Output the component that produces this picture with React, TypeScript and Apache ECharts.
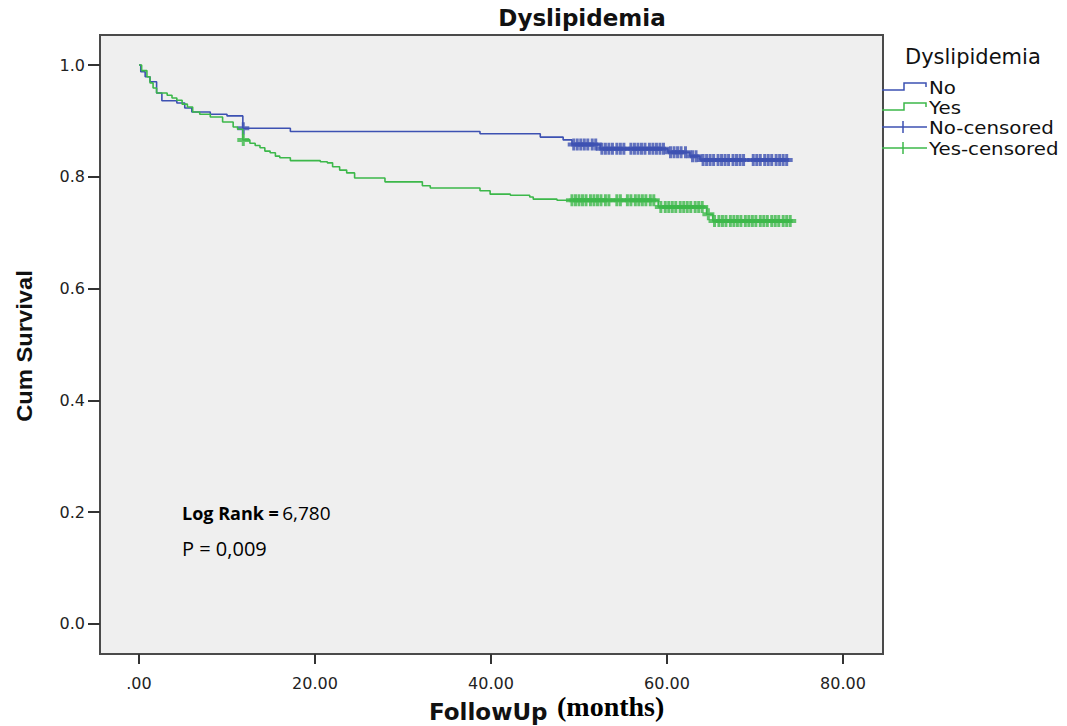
import React, { useEffect, useRef } from "react";
import * as echarts from "echarts";

const xTicks = [0, 20, 40, 60, 80];
const yTicks = [0, 0.2, 0.4, 0.6, 0.8, 1.0];

// Dyslipidemia = No : event times (months) and survival after each step
const noTimes = [0, 0.2, 0.7, 1.25, 2.0, 2.6, 4.3, 5.2, 6.0, 8.1, 10.0, 11.8, 17.2, 38.75, 45.6, 48.2, 49.2, 52.4, 60.1, 62.6, 63.75, 73.75];
const noSurv = [1.0, 0.988, 0.979, 0.97, 0.95, 0.936, 0.932, 0.923, 0.916, 0.912, 0.909, 0.887, 0.881, 0.877, 0.871, 0.866, 0.858, 0.85, 0.844, 0.837, 0.83, 0.83];

// Dyslipidemia = Yes
const yesTimes = [0, 0.3, 0.9, 1.25, 1.6, 2.0, 3.2, 3.75, 4.3, 4.9, 5.5, 6.1, 6.9, 8.1, 9.5, 10.7, 11.2, 11.8, 12.6, 13.2, 13.75, 14.3, 14.9, 15.5, 16.0, 17.2, 20.6, 21.4, 22.0, 22.8, 23.6, 24.5, 27.95, 32.2, 33.1, 38.75, 39.9, 42.2, 44.4, 44.8, 47.5, 59.0, 64.5, 65.2, 74.2];
const yesSurv = [1.0, 0.99, 0.979, 0.968, 0.959, 0.95, 0.946, 0.941, 0.937, 0.93, 0.925, 0.916, 0.912, 0.907, 0.898, 0.889, 0.885, 0.866, 0.86, 0.856, 0.852, 0.846, 0.843, 0.837, 0.834, 0.829, 0.827, 0.825, 0.818, 0.812, 0.807, 0.798, 0.791, 0.784, 0.78, 0.775, 0.769, 0.767, 0.764, 0.76, 0.758, 0.746, 0.733, 0.721, 0.721];

// censored observation times (months)
const noCensored = [11.85, 49.4, 49.8, 50.2, 50.6, 51.0, 51.5, 51.9, 52.6, 53.0, 53.4, 53.8, 54.3, 54.7, 55.1, 55.9, 56.3, 56.7, 57.1, 57.5, 58.0, 58.4, 58.8, 59.2, 59.6, 60.4, 60.8, 61.2, 61.6, 62.1, 62.9, 63.3, 64.1, 64.5, 64.9, 65.3, 65.8, 66.2, 66.6, 67.0, 67.5, 67.9, 68.3, 68.7, 69.8, 70.2, 70.6, 71.1, 71.5, 71.9, 72.4, 72.8, 73.2, 73.6];
const yesCensored = [11.85, 49.2, 49.6, 50.0, 50.4, 50.8, 51.3, 51.7, 52.1, 52.5, 53.0, 53.4, 54.3, 54.7, 55.5, 55.9, 56.4, 56.8, 57.2, 57.6, 58.1, 58.5, 59.3, 59.8, 60.2, 60.6, 61.0, 61.5, 61.9, 62.3, 62.7, 63.2, 63.6, 64.0, 64.7, 65.4, 65.9, 66.3, 66.7, 67.2, 67.6, 68.0, 68.4, 68.9, 69.3, 69.7, 70.1, 70.6, 71.0, 71.4, 71.9, 72.3, 72.7, 73.2, 73.6, 74.0];

const BLUE = "#3d51b2";
const GREEN = "#3cb84a";
const SANS = "'DejaVu Sans', Verdana, sans-serif";
const PLUS = "path://M4.5,0H7.5V4H12V8H7.5V12H4.5V8H0V4H4.5Z";

function survAt(times: number[], surv: number[], t: number) {
  let s = surv[0];
  for (let i = 0; i < times.length; i++) {
    if (times[i] <= t) s = surv[i];
  }
  return s;
}

export default function App() {
  const ref = useRef<HTMLDivElement>(null);
  useEffect(() => {
    if (!ref.current) return;
    const chart = echarts.init(ref.current, undefined, { renderer: "svg" });
    const noLine = noTimes.map((t, i) => [t, noSurv[i]]);
    const yesLine = yesTimes.map((t, i) => [t, yesSurv[i]]);
    const noCens = noCensored.map((t) => [t, survAt(noTimes, noSurv, t)]);
    const yesCens = yesCensored.map((t) => [t, survAt(yesTimes, yesSurv, t)]);

    const legendStep = (y: number, color: string) => ({
      type: "polyline",
      shape: { points: [[882, y + 3], [904, y + 3], [904, y - 4], [926, y - 4], [926, y]] },
      style: { stroke: color, lineWidth: 1.5, fill: "none" },
    });
    const legendCens = (y: number, color: string) => ({
      type: "group",
      children: [
        { type: "line", shape: { x1: 882, y1: y, x2: 927, y2: y }, style: { stroke: color, lineWidth: 1.5 } },
        { type: "line", shape: { x1: 903, y1: y - 6, x2: 903, y2: y + 6 }, style: { stroke: color, lineWidth: 1.5 } },
      ],
    });
    const legendText = (y: number, text: string) => ({
      type: "text",
      x: 929,
      y,
      scaleX: 1.1,
      style: { text, font: `18px ${SANS}`, fill: "#111", verticalAlign: "middle" },
    });

    chart.setOption({
      animation: false,
      backgroundColor: "#ffffff",
      grid: {
        left: 100,
        top: 35,
        right: 184,
        bottom: 72,
        show: true,
        backgroundColor: "#efefef",
        borderColor: "#4a4a4a",
        borderWidth: 2,
      },
      xAxis: {
        type: "value",
        min: -4.432,
        max: 84.545,
        axisLine: { show: true, onZero: false, lineStyle: { color: "#4a4a4a", width: 2 } },
        axisTick: { show: true, customValues: xTicks, length: 10, lineStyle: { color: "#333", width: 2 } },
        axisLabel: {
          customValues: xTicks,
          formatter: (v: number) => (v === 0 ? ".00" : v.toFixed(2)),
          fontSize: 16,
          fontFamily: SANS,
          color: "#222",
          margin: 21,
        },
        splitLine: { show: false },
      },
      yAxis: {
        type: "value",
        min: -0.0537,
        max: 1.0537,
        axisLine: { show: true, onZero: false, lineStyle: { color: "#4a4a4a", width: 2 } },
        axisTick: { show: true, customValues: yTicks, length: 12, lineStyle: { color: "#333", width: 2 } },
        axisLabel: {
          customValues: yTicks,
          formatter: (v: number) => v.toFixed(1),
          fontSize: 16,
          fontFamily: SANS,
          color: "#222",
          margin: 15,
        },
        splitLine: { show: false },
      },
      series: [
        {
          name: "No",
          type: "line",
          step: "end",
          data: noLine,
          showSymbol: false,
          lineStyle: { color: BLUE, width: 1.6 },
          silent: true,
        },
        {
          name: "Yes",
          type: "line",
          step: "end",
          data: yesLine,
          showSymbol: false,
          lineStyle: { color: GREEN, width: 1.6 },
          silent: true,
        },
        {
          name: "No-censored",
          type: "scatter",
          data: noCens,
          symbol: PLUS,
          symbolSize: [12, 12],
          itemStyle: { color: BLUE },
          silent: true,
        },
        {
          name: "Yes-censored",
          type: "scatter",
          data: yesCens,
          symbol: PLUS,
          symbolSize: [12, 12],
          itemStyle: { color: GREEN },
          silent: true,
        },
      ],
      graphic: [
        {
          type: "text",
          x: 582,
          y: 18,
          style: { text: "Dyslipidemia", font: `bold 23px ${SANS}`, fill: "#111", align: "center", verticalAlign: "middle" },
        },
        {
          type: "text",
          x: 905,
          y: 57,
          style: { text: "Dyslipidemia", font: `21px ${SANS}`, fill: "#111", verticalAlign: "middle" },
        },
        legendStep(87, BLUE),
        legendText(87, "No"),
        legendStep(107, GREEN),
        legendText(107, "Yes"),
        legendCens(127, BLUE),
        legendText(127, "No-censored"),
        legendCens(148, GREEN),
        legendText(148, "Yes-censored"),
        {
          type: "text",
          x: 24,
          y: 346,
          rotation: Math.PI / 2,
          scaleX: 1.08,
          style: { text: "Cum Survival", font: `bold 22px 'Liberation Sans', Arial, sans-serif`, fill: "#111", align: "center", verticalAlign: "middle" },
        },
        {
          type: "text",
          x: 429,
          y: 712,
          style: { text: "FollowUp", font: `bold 23px ${SANS}`, fill: "#111", verticalAlign: "middle" },
        },
        {
          type: "text",
          x: 557,
          y: 706,
          style: { text: "(months)", font: `bold 28px 'Liberation Serif', 'Times New Roman', serif`, fill: "#000", verticalAlign: "middle" },
        },
        {
          type: "text",
          x: 182,
          y: 513,
          style: {
            text: "{b|Log Rank =} {n|6,780}",
            verticalAlign: "middle",
            rich: {
              b: { fontFamily: "'Open Sans', sans-serif", fontSize: 18, fontWeight: "bold", fill: "#000" },
              n: { fontFamily: "'Open Sans', sans-serif", fontSize: 19, fill: "#000" },
            },
          },
        },
        {
          type: "text",
          x: 182,
          y: 548,
          style: { text: "P = 0,009", font: `20px 'Open Sans', sans-serif`, fill: "#000", verticalAlign: "middle" },
        },
      ],
    });
    return () => chart.dispose();
  }, []);
  return (
    <div
      ref={ref}
      style={{ position: "absolute", left: 0, top: 0, width: 1067, height: 726, background: "#fff" }}
    />
  );
}
